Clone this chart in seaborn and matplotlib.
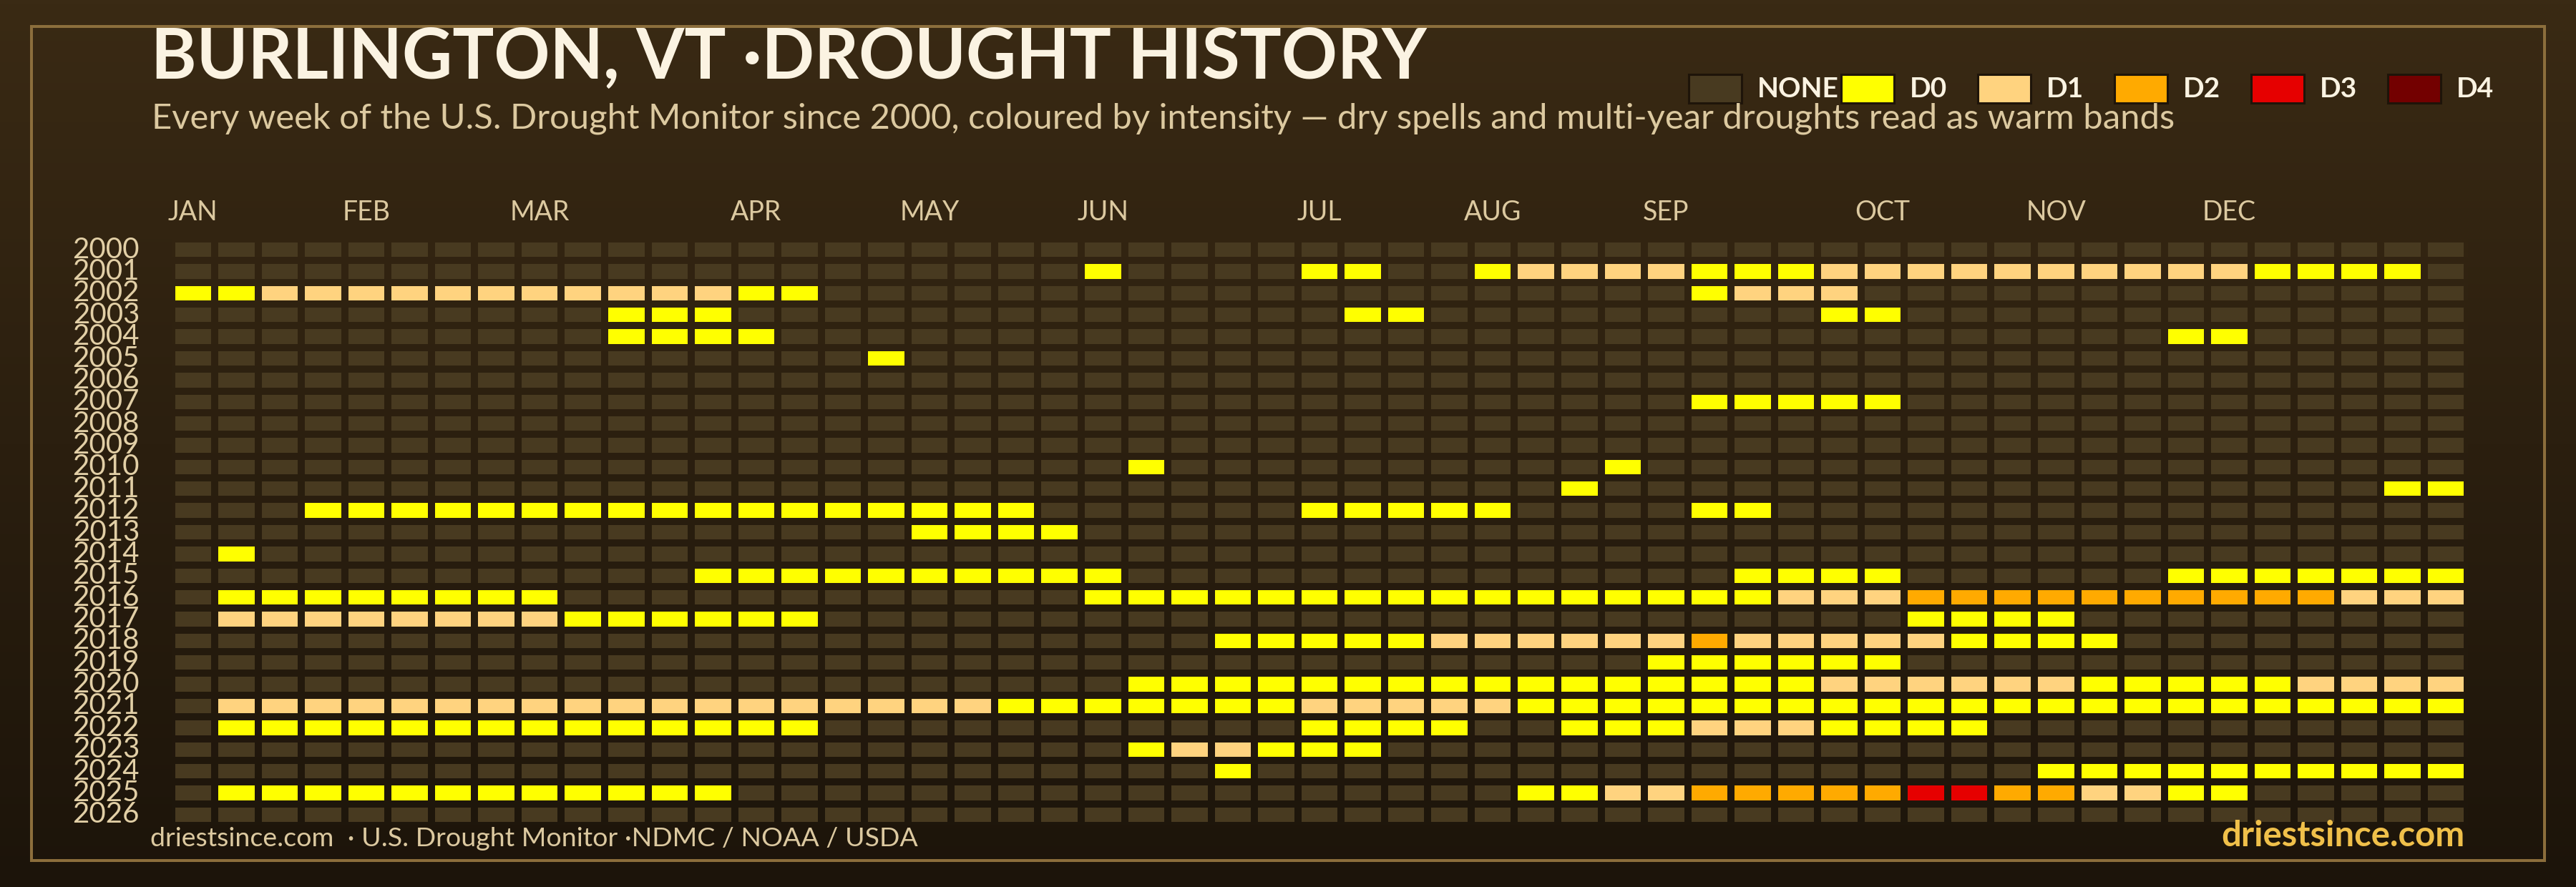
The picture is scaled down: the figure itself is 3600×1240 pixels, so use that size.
import numpy as np
import pandas as pd
import matplotlib
matplotlib.use('Agg')
import matplotlib.pyplot as plt
import seaborn as sns
from matplotlib.colors import ListedColormap, to_rgb
from matplotlib.patches import Rectangle

# --- data -------------------------------------------------------------
years = list(range(2000, 2027))

# one character per week of the year (53 weeks), spaces are only for reading
# '.' = no drought, '0'..'4' = D0..D4
week_codes = [
    ".......... .......... .......... .......... .......... ...",  # 2000
    ".......... .......... .0....00.. 0111100011 1111111100 00.",  # 2001
    "0011111111 11100..... .......... .....0111. .......... ...",  # 2002
    ".......... 000....... .......00. ........00 .......... ...",  # 2003
    ".......... 0000...... .......... .......... ......00.. ...",  # 2004
    ".......... ......0... .......... .......... .......... ...",  # 2005
    ".......... .......... .......... .......... .......... ...",  # 2006
    ".......... .......... .......... .....00000 .......... ...",  # 2007
    ".......... .......... .......... .......... .......... ...",  # 2008
    ".......... .......... .......... .......... .......... ...",  # 2009
    ".......... .......... ..0....... ...0...... .......... ...",  # 2010
    ".......... .......... .......... ..0....... .......... .00",  # 2011
    "...0000000 0000000000 ......0000 0....00... .......... ...",  # 2012
    ".......... .......000 0......... .......... .......... ...",  # 2013
    ".0........ .......... .......... .......... .......... ...",  # 2014
    ".......... ..00000000 00........ ......0000 ......0000 000",  # 2015
    ".00000000. .......... .000000000 0000000111 2222222222 111",  # 2016
    ".111111110 00000..... .......... .......... 0000...... ...",  # 2017
    ".......... .......... ....000001 1111121111 10000..... ...",  # 2018
    ".......... .......... .......... ....000000 .......... ...",  # 2019
    ".......... .......... ..00000000 0000000011 1111000001 111",  # 2020
    ".111111111 1111111110 0000001111 1000000000 0000000000 000",  # 2021
    ".000000000 00000..... ......0000 ..00011100 00........ ...",  # 2022
    ".......... .......... ..011000.. .......... .......... ...",  # 2023
    ".......... .......... ....0..... .......... ...0000000 000",  # 2024
    ".000000000 000....... .......... .001122222 33221100.. ...",  # 2025
    ".......... .......... .......... .......... .......... ...",  # 2026
]

level_labels = ["NONE", "D0", "D1", "D2", "D3", "D4"]
level_colors = ["#483a20", "#ffff00", "#ffd37f", "#ffaa00", "#e60000", "#730000"]

month_names = ["JAN", "FEB", "MAR", "APR", "MAY", "JUN",
               "JUL", "AUG", "SEP", "OCT", "NOV", "DEC"]
month_weeks = [0, 4, 8, 13, 17, 21, 26, 30, 34, 39, 43, 47]

# parse codes into a year x week table
rows = []
for code in week_codes:
    code = code.replace(" ", "")
    assert len(code) == 53
    rows.append([0 if c == "." else int(c) + 1 for c in code])
grid = pd.DataFrame(rows, index=years, columns=range(53))

# --- figure -----------------------------------------------------------
W, H = 3600, 1240
sns.set_theme(style="white")
plt.rcParams['font.family'] = ['Lato', 'DejaVu Sans']

fig = plt.figure(figsize=(W / 100, H / 100), dpi=100)

# vertical background gradient
bg_top = np.array(to_rgb("#3a2a14"))
bg_bot = np.array(to_rgb("#1c140a"))
bg = fig.add_axes([0, 0, 1, 1], zorder=-10)
t = np.linspace(0, 1, 256)[:, None, None]
bg.imshow(bg_top + (bg_bot - bg_top) * t, aspect="auto", extent=[0, 1, 0, 1])
bg.axis("off")

# gold frame
fig.patches.append(Rectangle((44 / W, 1 - 1203 / H), (3556 - 44) / W, (1203 - 37) / H,
                             transform=fig.transFigure, fill=False,
                             ec="#8c6e3c", lw=2.9, zorder=1))

# heatmap
ax_top, ax_bot = 334, 1154
ax = fig.add_axes([239.5 / W, 1 - ax_bot / H, 3209 / W, (ax_bot - ax_top) / H])
ax.patch.set_alpha(0)
sns.heatmap(grid, ax=ax, cmap=ListedColormap(level_colors), vmin=-0.5, vmax=5.5,
            cbar=False, linewidths=6.1, linecolor="#2a1f10",
            xticklabels=False, yticklabels=True)

# let the gaps follow the background gradient
mesh = ax.collections[0]
row_y = ax_top + (np.arange(len(years)) + 0.5) * (ax_bot - ax_top) / len(years)
row_rgb = bg_top + (bg_bot - bg_top) * (row_y / H)[:, None]
edge = np.repeat(np.c_[row_rgb, np.ones(len(years))], 53, axis=0)
mesh.set_edgecolor(edge)

ax.set_xticks(np.array(month_weeks) + 0.5)
ax.set_xticklabels(month_names)
ax.xaxis.tick_top()
ax.tick_params(axis="x", length=0, pad=14, labelsize=27, labelcolor="#dcc9a0")
ax.set_yticks(np.arange(len(years)) + 0.5)
ax.set_yticklabels(years, rotation=0)
ax.tick_params(axis="y", length=0, pad=32, labelsize=29, labelcolor="#e2cfa6")
ax.set_xlabel("")
ax.set_ylabel("")
for s in ax.spines.values():
    s.set_visible(False)

renderer = fig.canvas.get_renderer()


def fit_width(txt, target_px):
    w = txt.get_window_extent(renderer).width
    txt.set_fontsize(txt.get_fontsize() * target_px / w)


# titles
title = fig.text(211 / W, 1 - 110 / H, "BURLINGTON, VT \u00b7DROUGHT HISTORY",
                 fontsize=70, fontweight="bold", color="#fbf3e2", va="baseline")
fit_width(title, 1786)
sub = fig.text(212 / W, 1 - 180 / H,
               "Every week of the U.S. Drought Monitor since 2000, coloured by intensity "
               "\u2014 dry spells and multi-year droughts read as warm bands",
               fontsize=31, color="#dcc9a0", va="baseline")
fit_width(sub, 2819)

# legend
x = 2360
yc = 124
for lab, col in zip(level_labels, level_colors):
    fig.patches.append(Rectangle((x / W, 1 - (yc + 20) / H), 74 / W, 40 / H,
                                 transform=fig.transFigure, fc=col,
                                 ec="#1e1409", lw=2.2, zorder=2))
    txt = fig.text((x + 96) / W, 1 - yc / H, lab, fontsize=28, fontweight="bold",
                   color="#fbf3e2", va="center")
    x1 = txt.get_window_extent(renderer).x1
    x = max(x + 191, x1 + 3)

# footer
foot = fig.text(210 / W, 1 - 1183 / H,
                "driestsince.com  \u00b7 U.S. Drought Monitor \u00b7NDMC / NOAA / USDA",
                fontsize=24, color="#dcc9a0", va="baseline")
fit_width(foot, 1071)
brand = fig.text(3445 / W, 1 - 1183 / H, "driestsince.com", fontsize=27,
                 fontweight="bold", color="#f0c04a", va="baseline", ha="right")
fit_width(brand, 340)

fig.savefig("out.png", dpi=100)
